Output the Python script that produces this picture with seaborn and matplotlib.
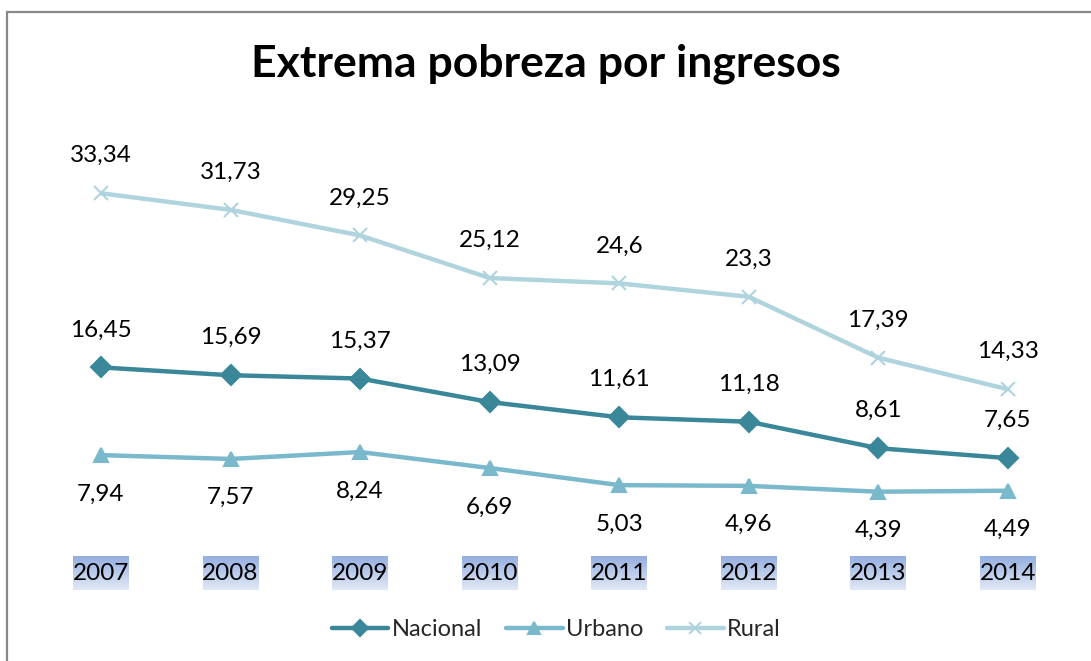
import numpy as np
import pandas as pd
import matplotlib
matplotlib.use("Agg")
import matplotlib.pyplot as plt
from matplotlib.patches import Rectangle
import seaborn as sns

# Data
years = ["2007", "2008", "2009", "2010", "2011", "2012", "2013", "2014"]
nacional = [16.45, 15.69, 15.37, 13.09, 11.61, 11.18, 8.61, 7.65]
urbano = [7.94, 7.57, 8.24, 6.69, 5.03, 4.96, 4.39, 4.49]
rural = [33.34, 31.73, 29.25, 25.12, 24.6, 23.3, 17.39, 14.33]

series = {"Nacional": nacional, "Urbano": urbano, "Rural": rural}
colors = {"Nacional": "#3A8799", "Urbano": "#7AB8CC", "Rural": "#B0D4DE"}
markers = {"Nacional": "D", "Urbano": "^", "Rural": "x"}

sns.set_theme(style="white")
plt.rcParams["font.family"] = ["Lato", "DejaVu Sans"]

fig = plt.figure(figsize=(10.91, 6.61), dpi=100)
ax = fig.add_axes([0.0332, 0.1876, 0.950, 0.6239])

pos = list(range(len(years)))
for name, vals in series.items():
    sns.lineplot(x=pos, y=vals, color=colors[name], marker=markers[name],
                 linewidth=3.2, markersize=10, markeredgewidth=1.5,
                 markeredgecolor=colors[name], ax=ax)

ax.set_xlim(-0.5, len(years) - 0.5)
ax.set_ylim(0, 40)
ax.set_xlabel("")
ax.set_ylabel("")
ax.set_yticks([])
ax.set_xticks([])
sns.despine(ax=ax, left=True, bottom=True)

# data labels
for name, vals in series.items():
    off = -28 if name == "Urbano" else 27
    for i, v in enumerate(vals):
        ax.annotate(f"{v:g}".replace(".", ","), (i, v), xytext=(0, off),
                    textcoords="offset points", ha="center", va="center",
                    fontsize=17.5, color="black")

# year labels with gradient background
grad = np.linspace(0, 1, 64).reshape(-1, 1)
cmap = matplotlib.colors.LinearSegmentedColormap.from_list("g", ["#94AEE0", "#E2E9F6"])
ypix = 661 - 573
for i, yr in enumerate(years):
    x_fig = ax.transData.transform((i, 0))[0] / fig.bbox.width
    w = 56 / 1091
    h = 34 / 661
    bax = fig.add_axes([x_fig - w / 2, ypix / 661 - h / 2, w, h], zorder=0)
    bax.imshow(grad, aspect="auto", cmap=cmap, extent=(0, 1, 0, 1), origin="upper")
    bax.axis("off")
    fig.text(x_fig, ypix / 661, yr, ha="center", va="center", fontsize=17.5,
             color="black", zorder=5)

fig.text(0.5, (661 - 64) / 661, "Extrema pobreza por ingresos", ha="center",
         va="center", fontsize=32, fontweight="bold", color="black")

# legend
handles = [plt.Line2D([0], [0], color=colors[n], lw=3.2, marker=markers[n],
                      markersize=8, markeredgewidth=1.5,
                      markeredgecolor=colors[n]) for n in series]
fig.legend(handles, list(series), loc="center", bbox_to_anchor=(0.51, 31 / 661),
           ncol=3, frameon=False, fontsize=17, handlelength=2.4,
           columnspacing=1.0, handletextpad=0.15)

# chart border (only top and left visible)
fig.patches.append(Rectangle((7 / 1091, -0.1), 1.2, 0.1 + (661 - 12) / 661,
                             transform=fig.transFigure, fill=False,
                             edgecolor="#888888", linewidth=1.6))

fig.savefig("out.png", dpi=100)
